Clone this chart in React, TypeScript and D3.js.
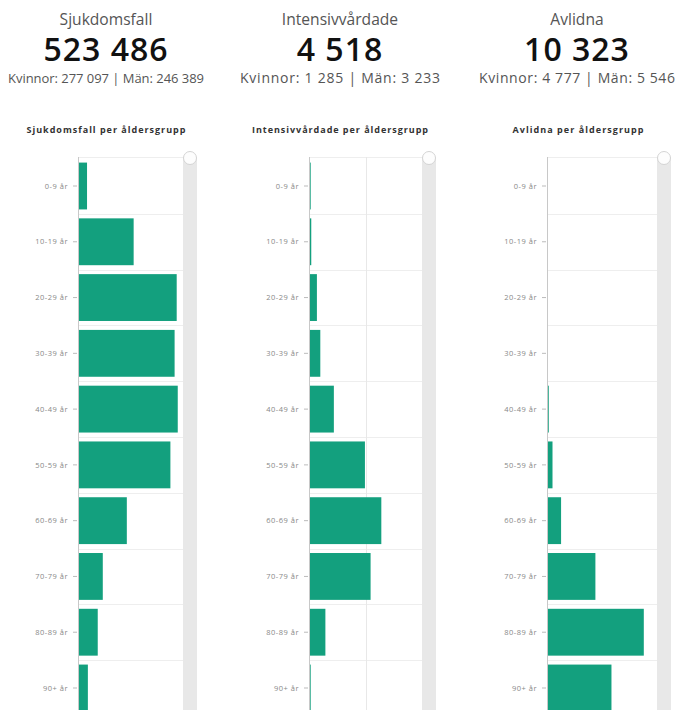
import React from "react";
import * as d3 from "d3";

const ageGroups = ["0-9 år", "10-19 år", "20-29 år", "30-39 år", "40-49 år", "50-59 år", "60-69 år", "70-79 år", "80-89 år", "90+ år"];

const casesByAge = [8600, 53000, 94000, 92000, 95000, 88000, 46500, 23600, 18800, 9400];
const icuByAge = [30, 40, 140, 200, 440, 990, 1280, 1090, 290, 30];
const deathsByAge = [3, 5, 15, 40, 80, 250, 640, 2200, 4400, 2930];

const headerTitles = ["Sjukdomsfall", "Intensivvårdade", "Avlidna"];
const headerTotals = ["523 486", "4 518", "10 323"];
const headerWomen = ["277 097", "1 285", "4 777"];
const headerMen = ["246 389", "3 233", "5 546"];
const chartTitles = ["Sjukdomsfall per åldersgrupp", "Intensivvårdade per åldersgrupp", "Avlidna per åldersgrupp"];
const axisMax = [100000, 2000, 5000];
const gridTicks = [[100000], [1000, 2000], [5000]];

const seriesList = [casesByAge, icuByAge, deathsByAge];

const layout = [
  { cx: 106, titleX: 106, axisX: 78, right: 183, subSize: 13, subLen: 196, titleLen: 159 },
  { cx: 340, titleX: 340, axisX: 309, right: 422, subSize: 14, subLen: 200, titleLen: 176 },
  { cx: 577, titleX: 578, axisX: 547, right: 657, subSize: 14, subLen: 196, titleLen: 131 },
];

const FONT = "'Open Sans', 'Noto Sans', sans-serif";
const BAR = "#13a07e";

const plotTop = 157;
const plotBottom = 717;

function Panel({ i }: { i: number }) {
  const L = layout[i];
  const data = seriesList[i];
  const y = d3.scaleBand<string>().domain(ageGroups).range([plotTop, plotBottom]).paddingInner(0.16).paddingOuter(0.1);
  const x = d3.scaleLinear().domain([0, axisMax[i]]).range([L.axisX, L.right]);
  const step = y.step();
  const bw = y.bandwidth();
  const sbW = 14;
  return (
    <g>
      <text x={L.cx} y={25} textAnchor="middle" fontFamily={FONT} fontSize={15.6} fill="#555" fontWeight={400}>{headerTitles[i]}</text>
      <text x={L.cx} y={61} textAnchor="middle" fontFamily={FONT} fontSize={32} letterSpacing={1} fill="#111" fontWeight={600}>{headerTotals[i]}</text>
      <text x={L.cx} y={83} textAnchor="middle" fontFamily={FONT} fontSize={L.subSize} fill="#555" textLength={L.subLen} lengthAdjust="spacing">{`Kvinnor: ${headerWomen[i]} | Män: ${headerMen[i]}`}</text>
      <text x={L.titleX} y={133} textAnchor="middle" fontFamily={FONT} fontSize={9} fill="#333" fontWeight={700} textLength={L.titleLen} lengthAdjust="spacing">{chartTitles[i]}</text>

      {/* horizontal grid */}
      <line x1={L.axisX} x2={L.right} y1={plotTop + 0.5} y2={plotTop + 0.5} stroke="#eeeeee" />
      {ageGroups.slice(0, -1).map((g) => {
        const gy = Math.round((y(g) as number) + bw + (step - bw) / 2) + 0.5;
        return <line key={g} x1={L.axisX} x2={L.right} y1={gy} y2={gy} stroke="#eeeeee" />;
      })}
      {/* vertical grid */}
      {gridTicks[i].map((t) => (
        <line key={t} x1={Math.round(x(t)) + 0.5} x2={Math.round(x(t)) + 0.5} y1={plotTop} y2={plotBottom} stroke="#e8e8e8" />
      ))}

      {/* bars */}
      {ageGroups.map((g, k) => (
        <rect key={g} x={x(0)} y={y(g)} width={Math.max(1, x(data[k]) - x(0))} height={bw} fill={BAR} />
      ))}

      {/* axis */}
      <line x1={L.axisX + 0.5} x2={L.axisX + 0.5} y1={plotTop} y2={plotBottom} stroke="#c8c8c8" />
      {ageGroups.map((g) => {
        const cy = (y(g) as number) + bw / 2;
        return (
          <g key={g}>
            <line x1={L.axisX - 5} x2={L.axisX - 1} y1={cy} y2={cy} stroke="#aaa" strokeWidth={0.8} />
            <text x={L.axisX - 10} y={cy} dy="0.35em" textAnchor="end" fontFamily={FONT} fontSize={7.5} letterSpacing={0.5} fill="#888">{g}</text>
          </g>
        );
      })}

      {/* scrollbar */}
      <rect x={L.right} y={plotTop} width={sbW} height={plotBottom - plotTop} fill="#e8e8e8" />
      <circle cx={L.right + sbW / 2} cy={plotTop + 1} r={sbW / 2 - 0.5} fill="#fdfdfd" stroke="#d4d4d4" />
    </g>
  );
}

export default function App() {
  return (
    <svg width={678} height={710} style={{ position: "absolute", left: 0, top: 0, background: "#fff" }}>
      <rect width={678} height={710} fill="#fff" />
      {[0, 1, 2].map((i) => (
        <Panel key={i} i={i} />
      ))}
    </svg>
  );
}
